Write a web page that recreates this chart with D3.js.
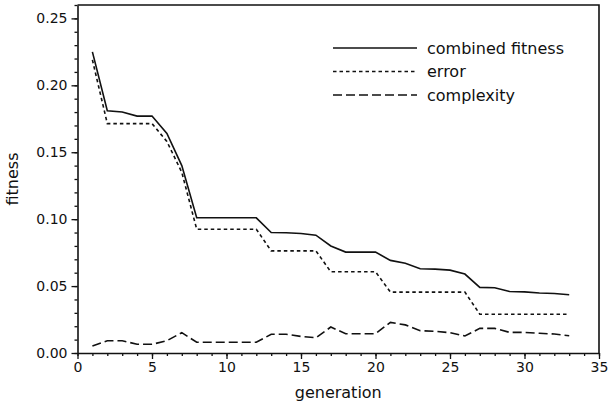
<!DOCTYPE html>
<html>
<head>
<meta charset="utf-8">
<script src="https://cdn.jsdelivr.net/npm/d3@7"></script>
<style>
    body { margin: 0; background: #fff; }
    text { font-family: "DejaVu Sans", sans-serif; fill: #111; }
</style>
</head>
<body>
<svg id="chart" width="608" height="405"></svg>
<script>
// generation number on the x axis
let generations = [1, 2, 3, 4, 5, 6, 7, 8, 9, 10, 11, 12, 13, 14, 15, 16, 17,
    18, 19, 20, 21, 22, 23, 24, 25, 26, 27, 28, 29, 30, 31, 32, 33];

let combinedFitness = [0.225, 0.181, 0.180, 0.177, 0.177, 0.164, 0.140, 0.101,
    0.101, 0.101, 0.101, 0.101, 0.090, 0.0898, 0.0893, 0.088, 0.080, 0.0754,
    0.0754, 0.0754, 0.0692, 0.067, 0.063, 0.0627, 0.0619, 0.059, 0.049, 0.0487,
    0.046, 0.0457, 0.0448, 0.0445, 0.0435];

let error = [0.219, 0.1714, 0.1714, 0.1714, 0.1714, 0.158, 0.135, 0.0925,
    0.0925, 0.0925, 0.0925, 0.0925, 0.0763, 0.0763, 0.0763, 0.0763, 0.0607,
    0.0607, 0.0607, 0.0607, 0.0455, 0.0455, 0.0455, 0.0455, 0.0455, 0.0455,
    0.029, 0.029, 0.029, 0.029, 0.029, 0.029, 0.029];

let complexity = [0.0052, 0.0092, 0.0092, 0.0065, 0.0065, 0.0092, 0.0152, 0.008,
    0.008, 0.008, 0.008, 0.008, 0.014, 0.014, 0.0124, 0.0114, 0.0194, 0.0144,
    0.0144, 0.0144, 0.0229, 0.021, 0.0167, 0.0162, 0.0152, 0.0127, 0.0184,
    0.0184, 0.0154, 0.0154, 0.0147, 0.0142, 0.0129];

let xMajor = [0, 5, 10, 15, 20, 25, 30, 35];
let yMajor = [0, 0.05, 0.10, 0.15, 0.20, 0.25];

let seriesNames = ["combined fitness", "error", "complexity"];

let svg = d3.select("#chart");
let plotLeft = 77.5, plotRight = 599, plotTop = 5, plotBottom = 353;

let xScale = d3.scaleLinear().domain([0, 35]).range([plotLeft, plotRight]);
let yScale = d3.scaleLinear().domain([0, 0.26]).range([plotBottom, plotTop]);

let series = [
    { name: seriesNames[0], values: combinedFitness, dash: null, width: 1.6 },
    { name: seriesNames[1], values: error, dash: "3.5,3", width: 1.6 },
    { name: seriesNames[2], values: complexity, dash: "9,4", width: 1.6 }
];

// minor ticks
svg.append("g")
    .attr("transform", "translate(0," + plotBottom + ")")
    .call(d3.axisBottom(xScale).tickValues(d3.range(0, 36, 1)).tickSize(3).tickFormat(""))
    .call((g) => g.select(".domain").remove());
svg.append("g")
    .attr("transform", "translate(" + plotLeft + ",0)")
    .call(d3.axisLeft(yScale).tickValues(d3.range(0, 0.2601, 0.01)).tickSize(3).tickFormat(""))
    .call((g) => g.select(".domain").remove());

// major ticks
svg.append("g")
    .attr("transform", "translate(0," + plotBottom + ")")
    .call(d3.axisBottom(xScale).tickValues(xMajor).tickSize(6).tickSizeOuter(0).tickPadding(3))
    .selectAll("text")
    .attr("font-size", 14)
    .attr("font-family", "DejaVu Sans");
svg.append("g")
    .attr("transform", "translate(" + plotLeft + ",0)")
    .call(d3.axisLeft(yScale).tickValues(yMajor).tickSize(6).tickSizeOuter(0).tickPadding(4)
        .tickFormat(d3.format(".2f")))
    .selectAll("text")
    .attr("font-size", 14)
    .attr("font-family", "DejaVu Sans");

svg.selectAll(".tick line").attr("stroke", "#111").attr("stroke-width", 1.3);
svg.selectAll(".domain").attr("stroke", "#111").attr("stroke-width", 1.6);

// frame top and right
svg.append("path")
    .attr("d", "M" + plotLeft + "," + plotTop + "H" + plotRight + "V" + plotBottom)
    .attr("fill", "none")
    .attr("stroke", "#111")
    .attr("stroke-width", 1.6);

svg.append("text")
    .attr("x", (plotLeft + plotRight) / 2)
    .attr("y", 398)
    .attr("text-anchor", "middle")
    .attr("font-size", 16)
    .text("generation");

svg.append("text")
    .attr("transform", "translate(18," + (plotTop + plotBottom) / 2 + ") rotate(-90)")
    .attr("text-anchor", "middle")
    .attr("font-size", 16)
    .text("fitness");

let lnMkr = d3.line()
    .x((d, i) => xScale(generations[i]))
    .y((d) => yScale(d));

series.forEach(function (s) {
    svg.append("path")
        .attr("fill", "none")
        .attr("d", lnMkr(s.values))
        .attr("stroke", "#111")
        .attr("stroke-width", s.width)
        .attr("stroke-dasharray", s.dash);
});

// legend
let legend = svg.append("g");
series.forEach(function (s, i) {
    let y = 48 + i * 23.5;
    legend.append("line")
        .attr("x1", 333).attr("x2", 417)
        .attr("y1", y).attr("y2", y)
        .attr("stroke", "#111")
        .attr("stroke-width", s.width)
        .attr("stroke-dasharray", s.dash);
    legend.append("text")
        .attr("x", 427)
        .attr("y", y)
        .attr("dy", "0.35em")
        .attr("font-size", 16)
        .text(s.name);
});
</script>
</body>
</html>
